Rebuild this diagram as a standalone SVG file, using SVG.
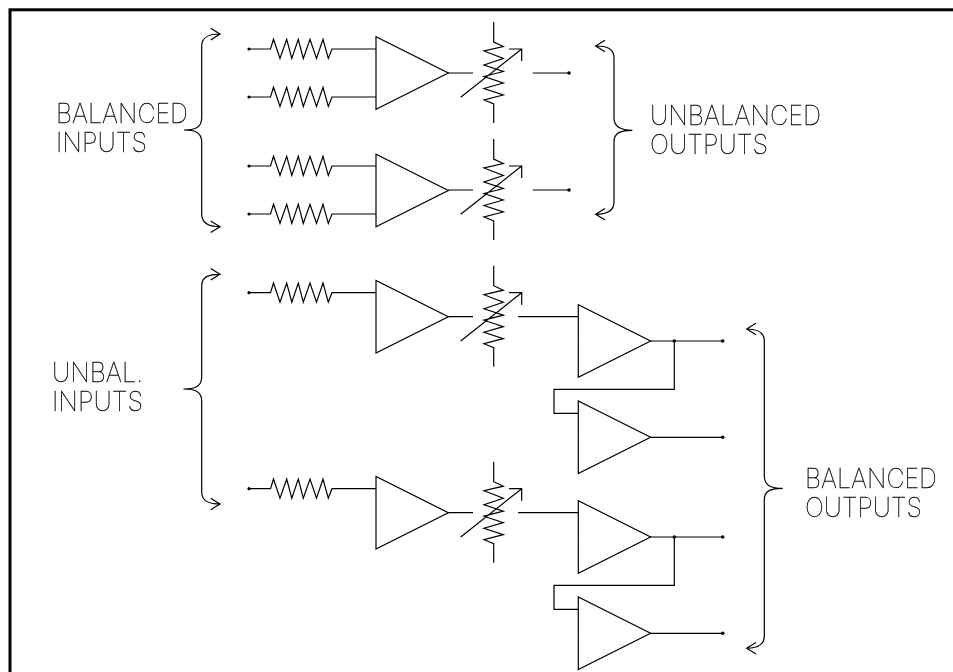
<svg xmlns="http://www.w3.org/2000/svg" width="953" height="672" viewBox="0 0 953 672">
<style>
.w{fill:none;stroke:#000;stroke-width:1.2;stroke-linejoin:miter}
.d{fill:#000}
.t{font-family:Inter,Roboto,"Liberation Sans",sans-serif;font-weight:100;font-size:27px;fill:#000;stroke:#000;stroke-width:.3}
</style>
<defs>
<filter id="gray" x="0" y="0" width="1" height="1" filterUnits="objectBoundingBox"><feOffset dx="0" dy="0"/></filter>
<g id="res"><path class="w" d="M249 0H270.500L273.500 -9.700L280 9.400L286.700 -9.700L291.800 9.400L298.300 -9.700L303.300 9.400L310 -9.700L316.500 9.400L323 -9.700L328.300 9.400L332 0H376"/><circle class="d" cx="249" cy="0" r="1.600"/></g>
<g id="amp"><path class="w" d="M0 -36.300V36.300L72.300 0Z"/></g>
<g id="pot"><path class="w" d="M473 0H448M493.700 -51V-31L503.300 -26.500L484 -22L503.300 -14.500L484 -8L503.300 -1.500L484 3.500L503.300 10L484 15.500L503.300 22L484 27L493.700 31V50M460.700 24.300L521.700 -24M509 -24H521.700V-12"/></g>
<circle id="dot" class="d" r="1.800"/>
</defs>
<rect id="frame" x="10" y="9.800" width="950" height="680" fill="#fff" stroke="#000" stroke-width="3"/>
<g id="connectors">
<path class="w" d="M532.700 73H569M532.700 190H569M518 316.700H578.300M518 512.700H578.300"/>
<path class="w" d="M650.300 341H722.700M650.300 437.300H722.700M650.300 537H722.700M650.300 633.300H722.700"/>
<path class="w" d="M674.300 341V389.300H554V413.300H578.300M674.300 537V585.300H554V609.300H578.300"/>
<use href="#dot" x="569" y="73"/><use href="#dot" x="569" y="190"/>
<use href="#dot" x="674.300" y="341"/><use href="#dot" x="674.300" y="537"/>
<use href="#dot" x="722.700" y="341"/><use href="#dot" x="722.700" y="437.300"/><use href="#dot" x="722.700" y="537"/><use href="#dot" x="722.700" y="633.300"/>
</g>
<g id="r1"><use href="#res" y="49"/></g>
<g id="r2"><use href="#res" y="97"/></g>
<g id="r3"><use href="#res" y="166"/></g>
<g id="r4"><use href="#res" y="214"/></g>
<g id="r5"><use href="#res" y="292.700"/></g>
<g id="r6"><use href="#res" y="488.700"/></g>
<g id="a1"><use href="#amp" x="376" y="73"/></g>
<g id="a2"><use href="#amp" x="376" y="190.500"/></g>
<g id="a3"><use href="#amp" x="376" y="316.700"/></g>
<g id="a4"><use href="#amp" x="376" y="512.700"/></g>
<g id="a5"><use href="#amp" x="578.300" y="341"/></g>
<g id="a6"><use href="#amp" x="578.300" y="437.300"/></g>
<g id="a7"><use href="#amp" x="578.300" y="537"/></g>
<g id="a8"><use href="#amp" x="578.300" y="633.300"/></g>
<g id="p1"><use href="#pot" y="73"/></g>
<g id="p2"><use href="#pot" y="190"/></g>
<g id="p3"><use href="#pot" y="316.700"/></g>
<g id="p4"><use href="#pot" y="512.700"/></g>
<g id="brace-balanced-inputs"><path class="w" d="M184 130C194 130 201.700 128 201.700 118V46C201.700 36 210 34 220 34M210.700 28.300L220 34L210.700 40M184 130C194 130 201.700 132 201.700 142V214C201.700 224 210 226.700 220 226.700M210.700 221L220 226.700L210.700 232.400"/></g>
<g id="brace-unbalanced-outputs"><path class="w" d="M632.300 130.300C622 130.300 614 132 614 142V202C614 212 606 214.300 595.700 214.300M605 208.600L595.700 214.300L605 220M632.300 130.300C622 130.300 614 128 614 118V58C614 48 606 46 595.700 46M605 40.300L595.700 46L605 51.700"/></g>
<g id="brace-unbal-inputs"><path class="w" d="M183.500 389C194 389 201.700 387 201.700 377V286C201.700 276 210 274.300 220 274.300M210.700 268.600L220 274.300L210.700 280M183.500 389C194 389 201.700 391 201.700 401V492C201.700 502 210 504 220 504M210.700 498.300L220 504L210.700 509.700"/></g>
<g id="brace-balanced-outputs"><path class="w" d="M782.700 488.300C772 488.300 764.300 490 764.300 500V636C764.300 646 756 648.300 746.700 648.300M756 642.600L746.700 648.300L756 654M782.700 488.300C772 488.300 764.300 486 764.300 476V341C764.300 331 756 329 746.700 329M756 323.300L746.700 329L756 334.700"/></g>
<g id="labels" filter="url(#gray)">
<text class="t" x="56" y="122.700" textLength="132" lengthAdjust="spacingAndGlyphs">BALANCED</text>
<text class="t" x="56" y="151.500" textLength="91" lengthAdjust="spacingAndGlyphs">INPUTS</text>
<text class="t" x="650" y="125.300" textLength="171" lengthAdjust="spacingAndGlyphs">UNBALANCED</text>
<text class="t" x="650" y="154.300" textLength="118" lengthAdjust="spacingAndGlyphs">OUTPUTS</text>
<text class="t" x="52" y="381.700" textLength="91" lengthAdjust="spacingAndGlyphs">UNBAL.</text>
<text class="t" x="52" y="410.700" textLength="91" lengthAdjust="spacingAndGlyphs">INPUTS</text>
<text class="t" x="805" y="487.700" textLength="132" lengthAdjust="spacingAndGlyphs">BALANCED</text>
<text class="t" x="805" y="516.700" textLength="117" lengthAdjust="spacingAndGlyphs">OUTPUTS</text>
</g>
</svg>
